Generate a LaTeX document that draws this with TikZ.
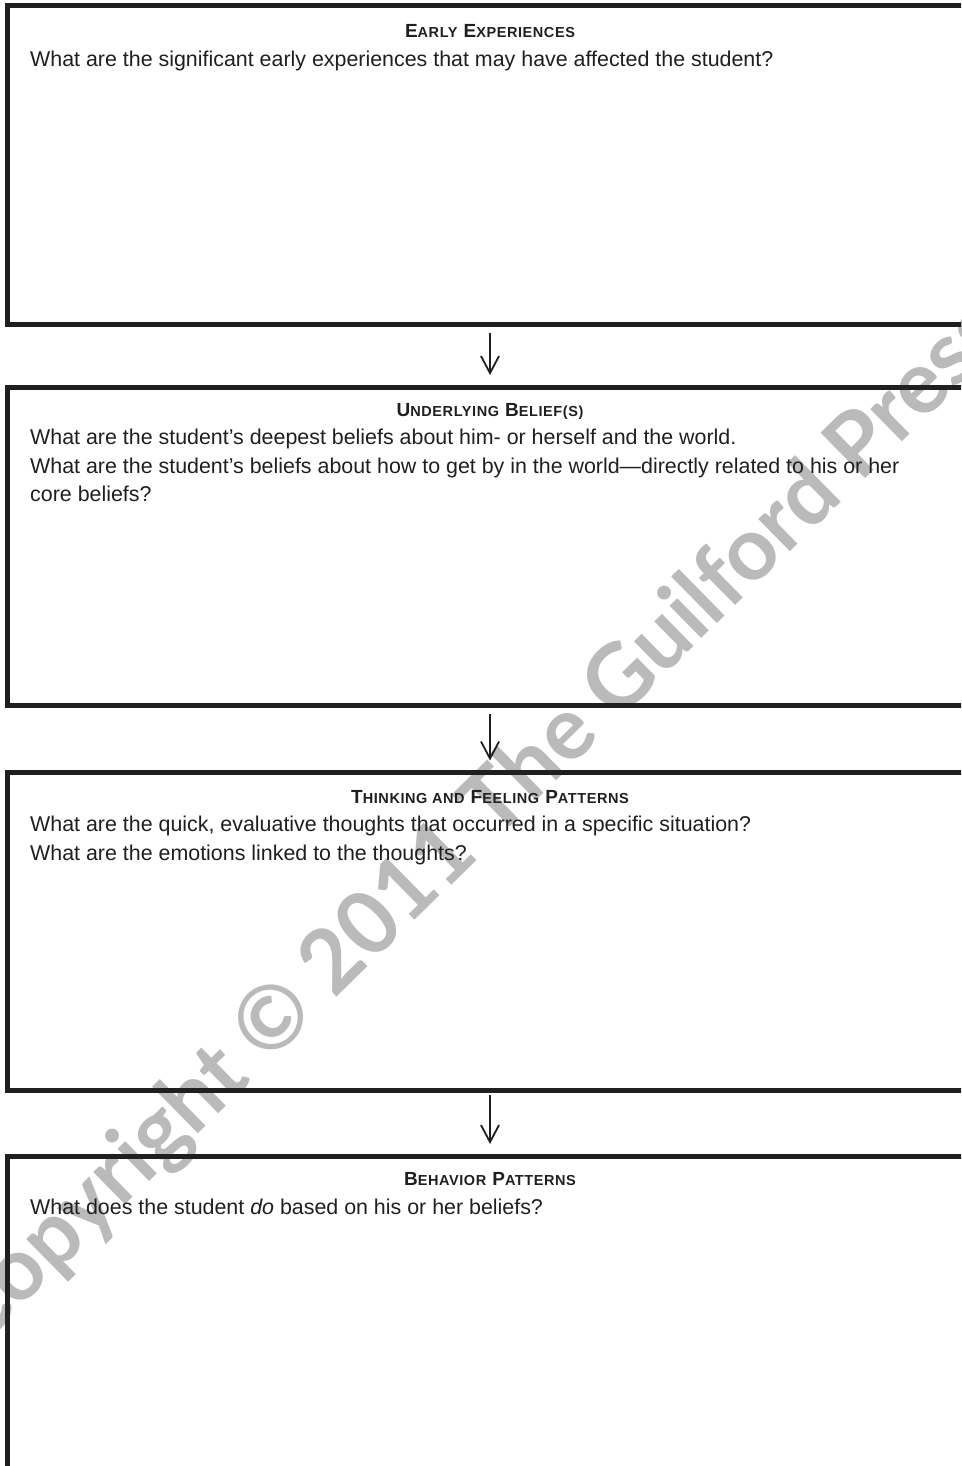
\documentclass[tikz,border=0pt]{standalone}
\usepackage{fontspec}
\setmainfont{Liberation Sans}
\newfontfamily\stampfont{Lato}
\usetikzlibrary{positioning, arrows.meta}

% small capitals by hand
\newcommand{\smc}[1]{{\fontsize{14.5}{14.5}\selectfont #1}}

\begin{document}
\begin{tikzpicture}[x=1pt, y=-1pt,
    panel/.style={draw=black!88, line width=5pt, minimum width=966pt, minimum height=318.5pt, inner sep=0pt, anchor=north},
    heading/.style={font=\fontsize{19}{19}\selectfont\bfseries\addfontfeature{LetterSpace=4}, text=black!88, inner sep=0pt, anchor=base},
    query/.style={font=\fontsize{21.4}{28.5}\selectfont, text=black!88, align=left, inner sep=0pt, anchor=north west},
    flow/.style={-{Straight Barb[length=17pt,width=18pt]}, line width=1.8pt, black!88},
    stamp/.style={font=\stampfont\bfseries\fontsize{88}{88}\selectfont, text=black!27, rotate=44.5, inner sep=0pt}]
    \useasboundingbox (0,0) rectangle (961,1466);
    \clip (0,0) rectangle (961,1466);

    % watermark
    \node[stamp] (mark) at (476,826) {Copyright © 2011 The Guilford Press};

    % boxes
    \node[panel, anchor=north west] (early) at (4.5,3.5) {};
    \node[panel] (belief) [below=57.5pt of early] {};
    \node[panel] (pattern) [below=61.5pt of belief] {};
    \node[panel] (behave) [below=61pt of pattern] {};

    % headings
    \node[heading] (early-h) at ([yshift=-34.5pt]early.north) {E\smc{ARLY} E\smc{XPERIENCES}};
    \node[heading] (belief-h) at ([yshift=-32pt]belief.north) {U\smc{NDERLYING} B\smc{ELIEF(S)}};
    \node[heading] (pattern-h) at ([yshift=-33.5pt]pattern.north) {T\smc{HINKING AND} F\smc{EELING} P\smc{ATTERNS}};
    \node[heading] (behave-h) at ([yshift=-31pt]behave.north) {B\smc{EHAVIOR} P\smc{ATTERNS}};

    % questions
    \node[query] (early-q) at ([xshift=25.5pt, yshift=-47.4pt]early.north west)
        {What are the significant early experiences that may have affected the student?};
    \node[query] (belief-q) at ([xshift=25.5pt, yshift=-44.6pt]belief.north west)
        {What are the student’s deepest beliefs about him- or herself and the world.\\
         What are the student’s beliefs about how to get by in the world—directly related to his or her\\
         core beliefs?};
    \node[query] (pattern-q) at ([xshift=25.5pt, yshift=-46.4pt]pattern.north west)
        {What are the quick, evaluative thoughts that occurred in a specific situation?\\
         What are the emotions linked to the thoughts?};
    \node[query] (behave-q) at ([xshift=25.5pt, yshift=-45pt]behave.north west)
        {What does the student \emph{do} based on his or her beliefs?};

    % arrows
    \draw[flow, shorten <=6pt, shorten >=9.5pt] (early.south) -- (belief.north);
    \draw[flow, shorten <=6pt, shorten >=9pt] (belief.south) -- (pattern.north);
    \draw[flow, shorten <=2pt, shorten >=10pt] (pattern.south) -- (behave.north);
\end{tikzpicture}
\end{document}
